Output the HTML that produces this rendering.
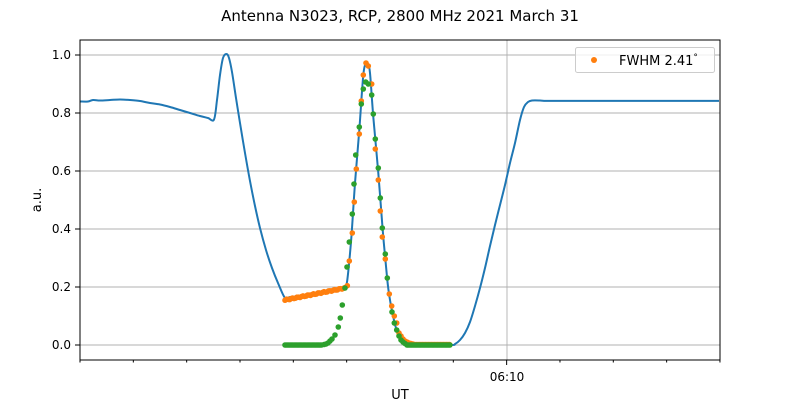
<!DOCTYPE html>
<html><head><meta charset="utf-8"><style>
html,body{margin:0;padding:0;background:#fff;}
svg text{font-family:"DejaVu Sans","Liberation Sans",sans-serif;}
</style></head><body>
<svg id="s" width="800" height="400" xmlns="http://www.w3.org/2000/svg">
<rect width="800" height="400" fill="#fff"/>
<text x="400" y="21" font-size="15" text-anchor="middle">Antenna N3023, RCP, 2800 MHz 2021 March 31</text>
<g stroke="#b0b0b0" stroke-width="0.9">
<line x1="80" x2="720" y1="345" y2="345"/><line x1="80" x2="720" y1="287" y2="287"/>
<line x1="80" x2="720" y1="229" y2="229"/><line x1="80" x2="720" y1="171" y2="171"/>
<line x1="80" x2="720" y1="113" y2="113"/><line x1="80" x2="720" y1="55" y2="55"/>
<line x1="507" x2="507" y1="40" y2="360"/>
</g>
<g id="blue"></g><g id="or"></g><g id="gr"></g>
<rect x="80" y="40" width="640" height="320" fill="none" stroke="#000" stroke-width="1"/>
<g id="ticks" stroke="#000"></g>
<g font-size="12" text-anchor="end">
<text x="71" y="349">0.0</text><text x="71" y="291">0.2</text><text x="71" y="233">0.4</text>
<text x="71" y="175">0.6</text><text x="71" y="117">0.8</text><text x="71" y="59">1.0</text>
</g>
<text x="507" y="381" font-size="12" text-anchor="middle">06:10</text>
<text x="400" y="399" font-size="13" text-anchor="middle">UT</text>
<text transform="translate(41,200) rotate(-90)" font-size="13" text-anchor="middle">a.u.</text>
<rect x="575.5" y="47.5" width="139" height="25" rx="2" fill="#fff" fill-opacity="0.8" stroke="#ccc"/>
<circle cx="594" cy="60" r="3" fill="#ff7f0e"/>
<text x="619" y="65" font-size="13">FWHM 2.41<tspan font-size="9" dy="-5">°</tspan></text>
</svg>
<script>
var NS="http://www.w3.org/2000/svg";
function el(p,t,a){var e=document.createElementNS(NS,t);for(var k in a)e.setAttribute(k,a[k]);document.getElementById(p).appendChild(e);return e;}
function cr(p){var d="M"+p[0][0]+","+p[0][1];for(var i=0;i<p.length-1;i++){var p0=p[i-1]||p[i],p1=p[i],p2=p[i+1],p3=p[i+2]||p2;var t=6;
d+=" C"+(p1[0]+(p2[0]-p0[0])/t).toFixed(2)+","+(p1[1]+(p2[1]-p0[1])/t).toFixed(2)+" "+(p2[0]-(p3[0]-p1[0])/t).toFixed(2)+","+(p2[1]-(p3[1]-p1[1])/t).toFixed(2)+" "+p2[0]+","+p2[1];}return d;}
for(var k=0;k<=12;k++){var x=80+53.33*k;el("ticks","line",{x1:x,x2:x,y1:360,y2:k==8?365:362.5});}
for(var i=0;i<6;i++){var y=345-58*i;el("ticks","line",{x1:75,x2:80,y1:y,y2:y});}
var pts=[[80,101.5],[88,101.5],[93,100],[100,100.5],[110,100],[120,99.5],[130,100],[140,101],[150,103],[160,104.5],[170,107],[180,110],[190,113],[200,116],[208,118],[214,119.5],[217,100],[220,75],[223,58],[226.5,54],[229,58],[232,72],[236,98],[240,123],[245,153],[250,181],[255,206],[260,228],[266,250],[272,268],[278,283],[285,298],[290,297],[300,296],[320,293],[340,289],[345,286],[347,282],[349.3,261],[351.7,233],[355,183],[359.3,130],[363.3,75],[366,63],[368,64],[370,73],[373.3,117],[378.3,173],[382.7,230],[387.3,280],[390,300],[393.3,317],[396,328],[400,338],[405,343],[410,345],[450,345],[455,344],[460,340],[465,333],[470,322],[475,306],[480,288],[485,268],[490,246],[495,225],[500,205],[505,185],[510,163],[515,143],[520,120],[524,107],[528,102],[532,100.5],[540,100.5]];
var xs=540;for(var x=545;x<=720;x+=6){pts.push([x,100.5+((x*7)%3-1)*0.4]);}
el("blue","path",{d:cr(pts),fill:"none",stroke:"#1f77b4","stroke-width":2,"stroke-linejoin":"round"});
var o=[];
for(var x=285;x<=345;x+=1.5){o.push([x,300-(x-285)*0.2+Math.sin(x*3)*0.5]);}
o.push([347.3,285.7],[349.3,261],[352.3,233],[354.3,202],[356.3,169],[359.3,134],[361.3,101],[363.3,75],[366,63],[368.3,66],[371.7,84],[375.3,149],[378.3,180],[380.3,211],[382.3,237],[385.3,259],[389.3,294],[391.7,306],[394.3,316],[396.7,323],[399,333],[401,336],[403,339],[405,341],[407,342],[409,343],[411,343.5],[413,344]);
for(var x=415;x<=450;x+=1.5)o.push([x,344.5]);
o.forEach(p=>el("or","circle",{cx:p[0],cy:p[1],r:2.8,fill:"#ff7f0e"}));
var g=[];
for(var x=285;x<=322;x+=1.3)g.push([x,345]);
g.push([324,344.5],[326,344],[328,343],[330,341],[332,339],[335,335],[338.3,327],[340.3,318],[342.3,305],[345,288],[347,267],[349.3,242],[352.3,214],[354,184],[355.7,155],[359.3,127],[361.3,104],[363.3,89],[365.7,82],[368.3,84],[371.7,95],[373.3,114],[375.3,139],[378.3,168],[380.3,198],[382.3,228],[385.3,254],[387.3,278],[392,312],[394.3,323],[396.7,330],[399,336],[401,340],[403,342],[405,343.5]);
for(var x=407;x<=450;x+=1.3)g.push([x,345]);
g.forEach(p=>el("gr","circle",{cx:p[0],cy:p[1],r:2.8,fill:"#2ca02c"}));
</script>
</body></html>
